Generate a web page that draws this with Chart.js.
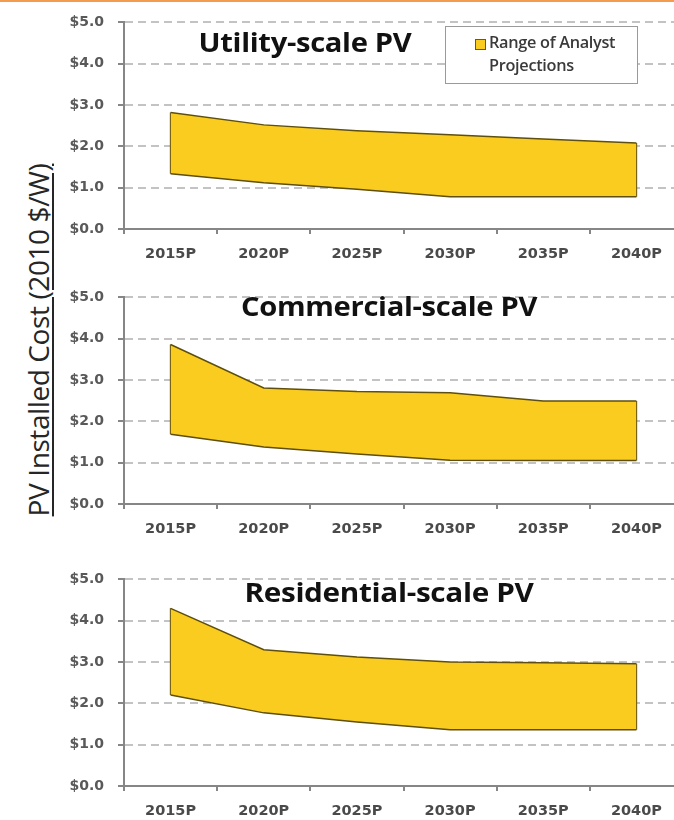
<!DOCTYPE html>
<html>
<head>
<meta charset="utf-8">
<script src="https://cdn.jsdelivr.net/npm/chart.js@4"></script>
<style>
  html, body { margin: 0; padding: 0; width: 674px; height: 820px; overflow: hidden; background: #fff; font-family: "Open Sans", Lato, sans-serif; }
  .topline { position: absolute; left: 0; top: 0; width: 674px; height: 2px; background: #f59b4d; }
  .panel { position: absolute; left: 0; width: 700px; height: 270px; }
  .title { position: absolute; font-weight: 700; font-size: 27px; color: #111; white-space: nowrap; transform: translateX(-50%) scaleX(1.08); letter-spacing: -0.3px; }
  .ylabel { position: absolute; left: 38px; top: 340px; transform: translate(-50%, -50%) rotate(-90deg); font-size: 28px; color: #262626; text-decoration: underline; text-decoration-thickness: 1.5px; text-underline-offset: 3px; white-space: nowrap; letter-spacing: -0.4px; }
  .legend { position: absolute; left: 445px; top: 26px; width: 191px; height: 56px; border: 1px solid #9a9a9a; background: #fff; font-size: 16.3px; font-weight: 600; color: #3a3a3a; }
  .legend .sw { position: absolute; left: 29px; top: 12px; width: 9px; height: 9px; background: #f9cc1f; border: 1px solid #6b5a12; }
  .legend .txt { position: absolute; left: 43px; top: 4px; line-height: 23px; letter-spacing: -0.3px; }
</style>
</head>
<body>
<div class="topline"></div>
<div class="ylabel">PV Installed Cost (2010 $/W)</div>

<div class="panel" style="top:0px"><canvas id="utility" width="700" height="270"></canvas></div>
<div class="panel" style="top:275px"><canvas id="commercial" width="700" height="270"></canvas></div>
<div class="panel" style="top:557px"><canvas id="residential" width="700" height="270"></canvas></div>

<div class="title" style="left:305px; top:23px">Utility-scale PV</div>
<div class="title" style="left:389px; top:287px">Commercial-scale PV</div>
<div class="title" style="left:389px; top:573px; font-size:27.5px">Residential-scale PV</div>

<div class="legend"><div class="sw"></div><div class="txt">Range of Analyst<br>Projections</div></div>

<script>
const years = ["2015P", "2020P", "2025P", "2030P", "2035P", "2040P"];
const costTicks = [0, 1, 2, 3, 4, 5];

const utilityLow = [1.34, 1.12, 0.96, 0.78, 0.78, 0.78];
const utilityHigh = [2.82, 2.52, 2.38, 2.28, 2.18, 2.08];

const commercialLow = [1.69, 1.38, 1.21, 1.06, 1.05, 1.05];
const commercialHigh = [3.86, 2.81, 2.72, 2.69, 2.49, 2.49];

const residentialLow = [2.20, 1.77, 1.55, 1.36, 1.36, 1.36];
const residentialHigh = [4.30, 3.30, 3.12, 3.00, 2.98, 2.96];

const fillColor = "#f9cc1f";
const edgeColor = "#5e4f10";
const axisColor = "#868686";

function edge(i, low, high) {
  return {
    data: [{ x: years[i], y: low[i] }, { x: years[i], y: high[i] }],
    borderColor: edgeColor,
    borderWidth: 1.5,
    pointRadius: 0,
    fill: false
  };
}

function makeChart(id, low, high) {
  new Chart(document.getElementById(id), {
    type: "line",
    data: {
      labels: years,
      datasets: [
        { data: low, borderColor: edgeColor, borderWidth: 1.5, pointRadius: 0, fill: false },
        { data: high, borderColor: edgeColor, borderWidth: 1.5, pointRadius: 0, fill: "-1", backgroundColor: fillColor },
        edge(0, low, high),
        edge(years.length - 1, low, high)
      ]
    },
    options: {
      responsive: false,
      animation: false,
      layout: { padding: { top: 16, right: 17, left: 0, bottom: 0 } },
      plugins: { legend: { display: false }, tooltip: { enabled: false } },
      scales: {
        x: {
          type: "category",
          offset: true,
          afterFit: s => { s.height = 41; },
          border: { color: axisColor, width: 2 },
          grid: { offset: true, drawOnChartArea: false, drawTicks: true, tickLength: 5, color: axisColor, lineWidth: 2 },
          ticks: { color: "#4a4a4a", padding: 12, font: { family: "DejaVu Sans", weight: "bold", size: 14.5 } }
        },
        y: {
          min: 0,
          max: 5,
          afterBuildTicks: s => { s.ticks = costTicks.map(v => ({ value: v })); },
          afterFit: s => { s.width = 124; },
          border: { color: axisColor, width: 2, dash: [8, 5] },
          grid: {
            color: "#c3c3c3",
            lineWidth: 2,
            tickColor: axisColor,
            tickLength: 6,
            tickBorderDash: []
          },
          ticks: {
            color: "#595959",
            padding: 14,
            font: { family: "DejaVu Sans", weight: "bold", size: 14 },
            callback: v => "$" + Number(v).toFixed(1)
          }
        }
      }
    }
  });
}

makeChart("utility", utilityLow, utilityHigh);
makeChart("commercial", commercialLow, commercialHigh);
makeChart("residential", residentialLow, residentialHigh);
</script>
</body>
</html>
